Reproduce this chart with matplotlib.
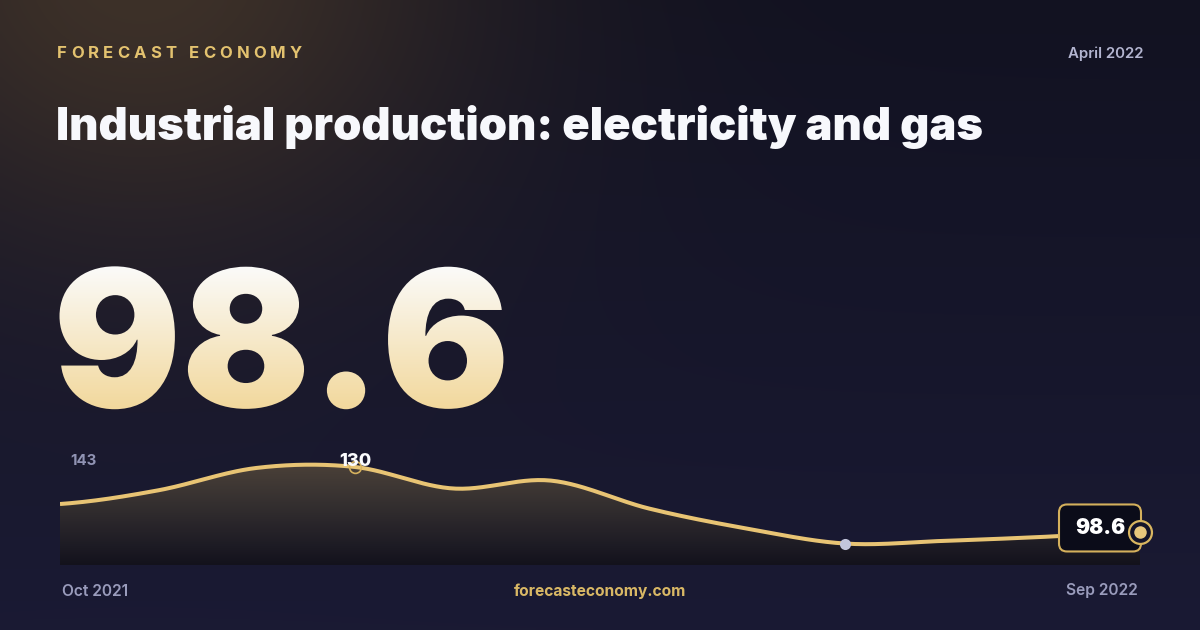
import numpy as np
import matplotlib
matplotlib.use("Agg")
import matplotlib.pyplot as plt
import matplotlib.colors as mcolors
from matplotlib import patheffects
from matplotlib.patches import Polygon, FancyBboxPatch
from matplotlib.transforms import TransformedPath

# data: monthly index, Oct 2021 .. Sep 2022
months = ["Oct 2021", "Nov 2021", "Dec 2021", "Jan 2022", "Feb 2022", "Mar 2022",
          "Apr 2022", "May 2022", "Jun 2022", "Jul 2022", "Aug 2022", "Sep 2022"]
values = [112.1, 118.7, 129.5, 130.0, 119.6, 123.4, 109.9, 100.2, 93.0, 94.3, 96.2, 98.6]
scale_top = 143
scale_bottom = 59
brand = "FORECAST ECONOMY"
title = "Industrial production: electricity and gas"
date_label = "April 2022"
site = "forecasteconomy.com"

GOLD = "#e8c474"
W, H = 1200, 630

plt.rcParams["font.family"] = ["Inter", "DejaVu Sans"]


class GradientFill(patheffects.AbstractPathEffect):
    """fill the text glyphs with a vertical gradient"""
    def __init__(self, top, bottom):
        super().__init__()
        self.top = np.array(mcolors.to_rgb(top))
        self.bottom = np.array(mcolors.to_rgb(bottom))

    def draw_path(self, renderer, gc, tpath, affine, rgbFace=None):
        tp = TransformedPath(tpath, affine)
        ext = tp.get_fully_transformed_path().get_extents()
        x0, y0 = int(np.floor(ext.x0)), int(np.floor(ext.y0))
        w = int(np.ceil(ext.x1)) - x0 + 1
        h = int(np.ceil(ext.y1)) - y0 + 1
        # first row ends up at the bottom of the glyphs
        t = np.linspace(0, 1, h)[:, None]
        rgb = self.bottom * (1 - t) + self.top * t
        img = np.empty((h, w, 4), np.uint8)
        img[..., :3] = (rgb[:, None, :] * 255).astype(np.uint8)
        img[..., 3] = 255
        gc0 = renderer.new_gc()
        gc0.copy_properties(gc)
        gc0.set_clip_path(tp)
        renderer.draw_image(gc0, x0, y0, img)
        gc0.restore()


def catmull_rom(xs, ys, n=30):
    xs = np.asarray(xs, float)
    ys = np.asarray(ys, float)
    px = np.r_[xs[0], xs, xs[-1]]
    py = np.r_[ys[0], ys, ys[-1]]
    outx, outy = [], []
    for i in range(1, len(px) - 2):
        t = np.linspace(0, 1, n, endpoint=False)
        m0 = (py[i + 1] - py[i - 1]) / 2
        m1 = (py[i + 2] - py[i]) / 2
        h00 = 2 * t**3 - 3 * t**2 + 1
        h10 = t**3 - 2 * t**2 + t
        h01 = -2 * t**3 + 3 * t**2
        h11 = t**3 - t**2
        outy.append(h00 * py[i] + h10 * m0 + h01 * py[i + 1] + h11 * m1)
        outx.append(px[i] + t * (px[i + 1] - px[i]))
    outx.append([xs[-1]])
    outy.append([ys[-1]])
    return np.concatenate(outx), np.concatenate(outy)


fig = plt.figure(figsize=(12, 6.3), dpi=100)

# background with warm glow top-left
bg = fig.add_axes([0, 0, 1, 1])
bg.set_xlim(0, W)
bg.set_ylim(H, 0)
bg.axis("off")
gy, gx = np.mgrid[0:H:3, 0:W:3]
top_c = np.array(mcolors.to_rgb("#121221"))
bot_c = np.array(mcolors.to_rgb("#1a1a34"))
base = top_c * (1 - gy[..., None] / H) + bot_c * (gy[..., None] / H)
d = np.hypot(gx - 140, (gy + 40) * 1.15)
glow = np.exp(-(d / 340.0) ** 2)[..., None] * 0.95
warm = np.array(mcolors.to_rgb("#403329"))
bgimg = base * (1 - glow) + warm * glow
bg.imshow(bgimg, extent=[0, W, H, 0], aspect="auto", interpolation="bilinear", zorder=0)

# header texts, brand with letter spacing
renderer = fig.canvas.get_renderer()
chars = [bg.text(0, 53, c, color="#e3c26f", fontsize=12, fontweight="bold", va="center")
         for c in brand]
space_w = 5
widths = [c.get_window_extent(renderer).width if c.get_text() != " " else space_w
          for c in chars]
gap = (245 - sum(widths)) / (len(brand) - 1)
xpos = 57
for c, wdt in zip(chars, widths):
    c.set_x(xpos)
    xpos += wdt + gap

bg.text(1143, 54, date_label, color="#b3b5d0", fontsize=10.8, fontweight="semibold",
        ha="right", va="center")
bg.text(56, 140, title, color="#f7f8fc", fontsize=32.6, fontweight="black",
        ha="left", va="baseline")

big = bg.text(53, 407, f"{values[-1]:.1f}", fontsize=137, fontweight="black",
              ha="left", va="baseline", color="#f8eed6")
big.set_path_effects([GradientFill("#fbfbfa", "#f2d89c")])

# sparkline
ytop = scale_top
ppu = (614 - 440) / (scale_top - scale_bottom)
ybot = scale_top - (565 - 440) / ppu
ax = fig.add_axes([60 / W, (H - 565) / H, 1080 / W, 125 / H])
ax.set_xlim(0, len(values) - 1)
ax.set_ylim(ybot, ytop)
ax.axis("off")
ax.patch.set_alpha(0)

xi = np.arange(len(values))
cx, cy = catmull_rom(xi, values)

verts = np.vstack([[cx[0], ybot], np.column_stack([cx, cy]), [cx[-1], ybot]])
clip = Polygon(verts, closed=True, facecolor="none", edgecolor="none", transform=ax.transData)
ax.add_patch(clip)
stops = np.array([[0.0, *mcolors.to_rgb("#554840")],
                  [0.2, *mcolors.to_rgb("#4a4038")],
                  [0.5, *mcolors.to_rgb("#353030")],
                  [0.85, *mcolors.to_rgb("#1d1b24")],
                  [1.0, *mcolors.to_rgb("#13121c")]])
tt = np.linspace(0, 1, 200)
grad = np.column_stack([np.interp(tt, stops[:, 0], stops[:, k]) for k in (1, 2, 3)])
fim = ax.imshow(grad[:, None, :], extent=[0, len(values) - 1, ybot, ytop], aspect="auto",
                origin="upper", interpolation="bilinear", zorder=1)
fim.set_clip_path(clip)

ax.plot(cx, cy, color=GOLD, lw=2.9, solid_capstyle="butt", zorder=3)

imax = int(np.argmax(values))
imin = int(np.argmin(values))
ax.plot(xi[imax], values[imax], "o", ms=8.5, mfc="none", mec="#d6b25e", mew=1.2,
        zorder=4, clip_on=False)
ax.text(xi[imax] + 0.01, values[imax] + 2.5, f"{values[imax]:.0f}", color="#fbfbfd",
        fontsize=13, fontweight="heavy", ha="center", va="center", zorder=5)
ax.plot(xi[imin], values[imin], "o", ms=8, mfc="#c3c6dc", mec="none", zorder=4, clip_on=False)

# value badge at the last point (drawn in the chart axes so it sits above the line)
lx, ly = bg.transData.inverted().transform(ax.transData.transform((xi[-1], values[-1])))
box = FancyBboxPatch((lx - 77, ly - 23.5), 74, 39, boxstyle="round,pad=4,rounding_size=8",
                     facecolor="#0b0c19", edgecolor="#d4b05c", lw=1.5, zorder=6,
                     transform=bg.transData, clip_on=False)
ax.add_patch(box)
ax.text(lx - 40, ly - 4, f"{values[-1]:.1f}", color="#ffffff", fontsize=15,
        fontweight="black", ha="center", va="center", zorder=7,
        transform=bg.transData, clip_on=False)
ax.plot(xi[-1], values[-1], "o", ms=16.5, mfc="#14142a", mec="#d9b660", mew=1.6,
        zorder=8, clip_on=False)
ax.plot(xi[-1], values[-1], "o", ms=9, mfc="#e8c77c", mec="none", zorder=9, clip_on=False)

# scale labels and footer
bg.text(70, 461, f"{scale_top}", color="#9093b3", fontsize=10.8, fontweight="bold",
        va="center", zorder=5)
bg.text(70, 547, f"{scale_bottom}", color="#9093b3", fontsize=10.8, fontweight="bold",
        va="center", zorder=5)
bg.text(62, 591, months[0], color="#9a9cbc", fontsize=11.2, fontweight="semibold", va="center")
bg.text(1138, 591, months[-1], color="#9a9cbc", fontsize=11.2, fontweight="semibold",
        ha="right", va="center")
bg.text(600, 591, site, color="#d9b865", fontsize=11.2, fontweight="bold",
        ha="center", va="center")

fig.savefig("out.png", dpi=100)
